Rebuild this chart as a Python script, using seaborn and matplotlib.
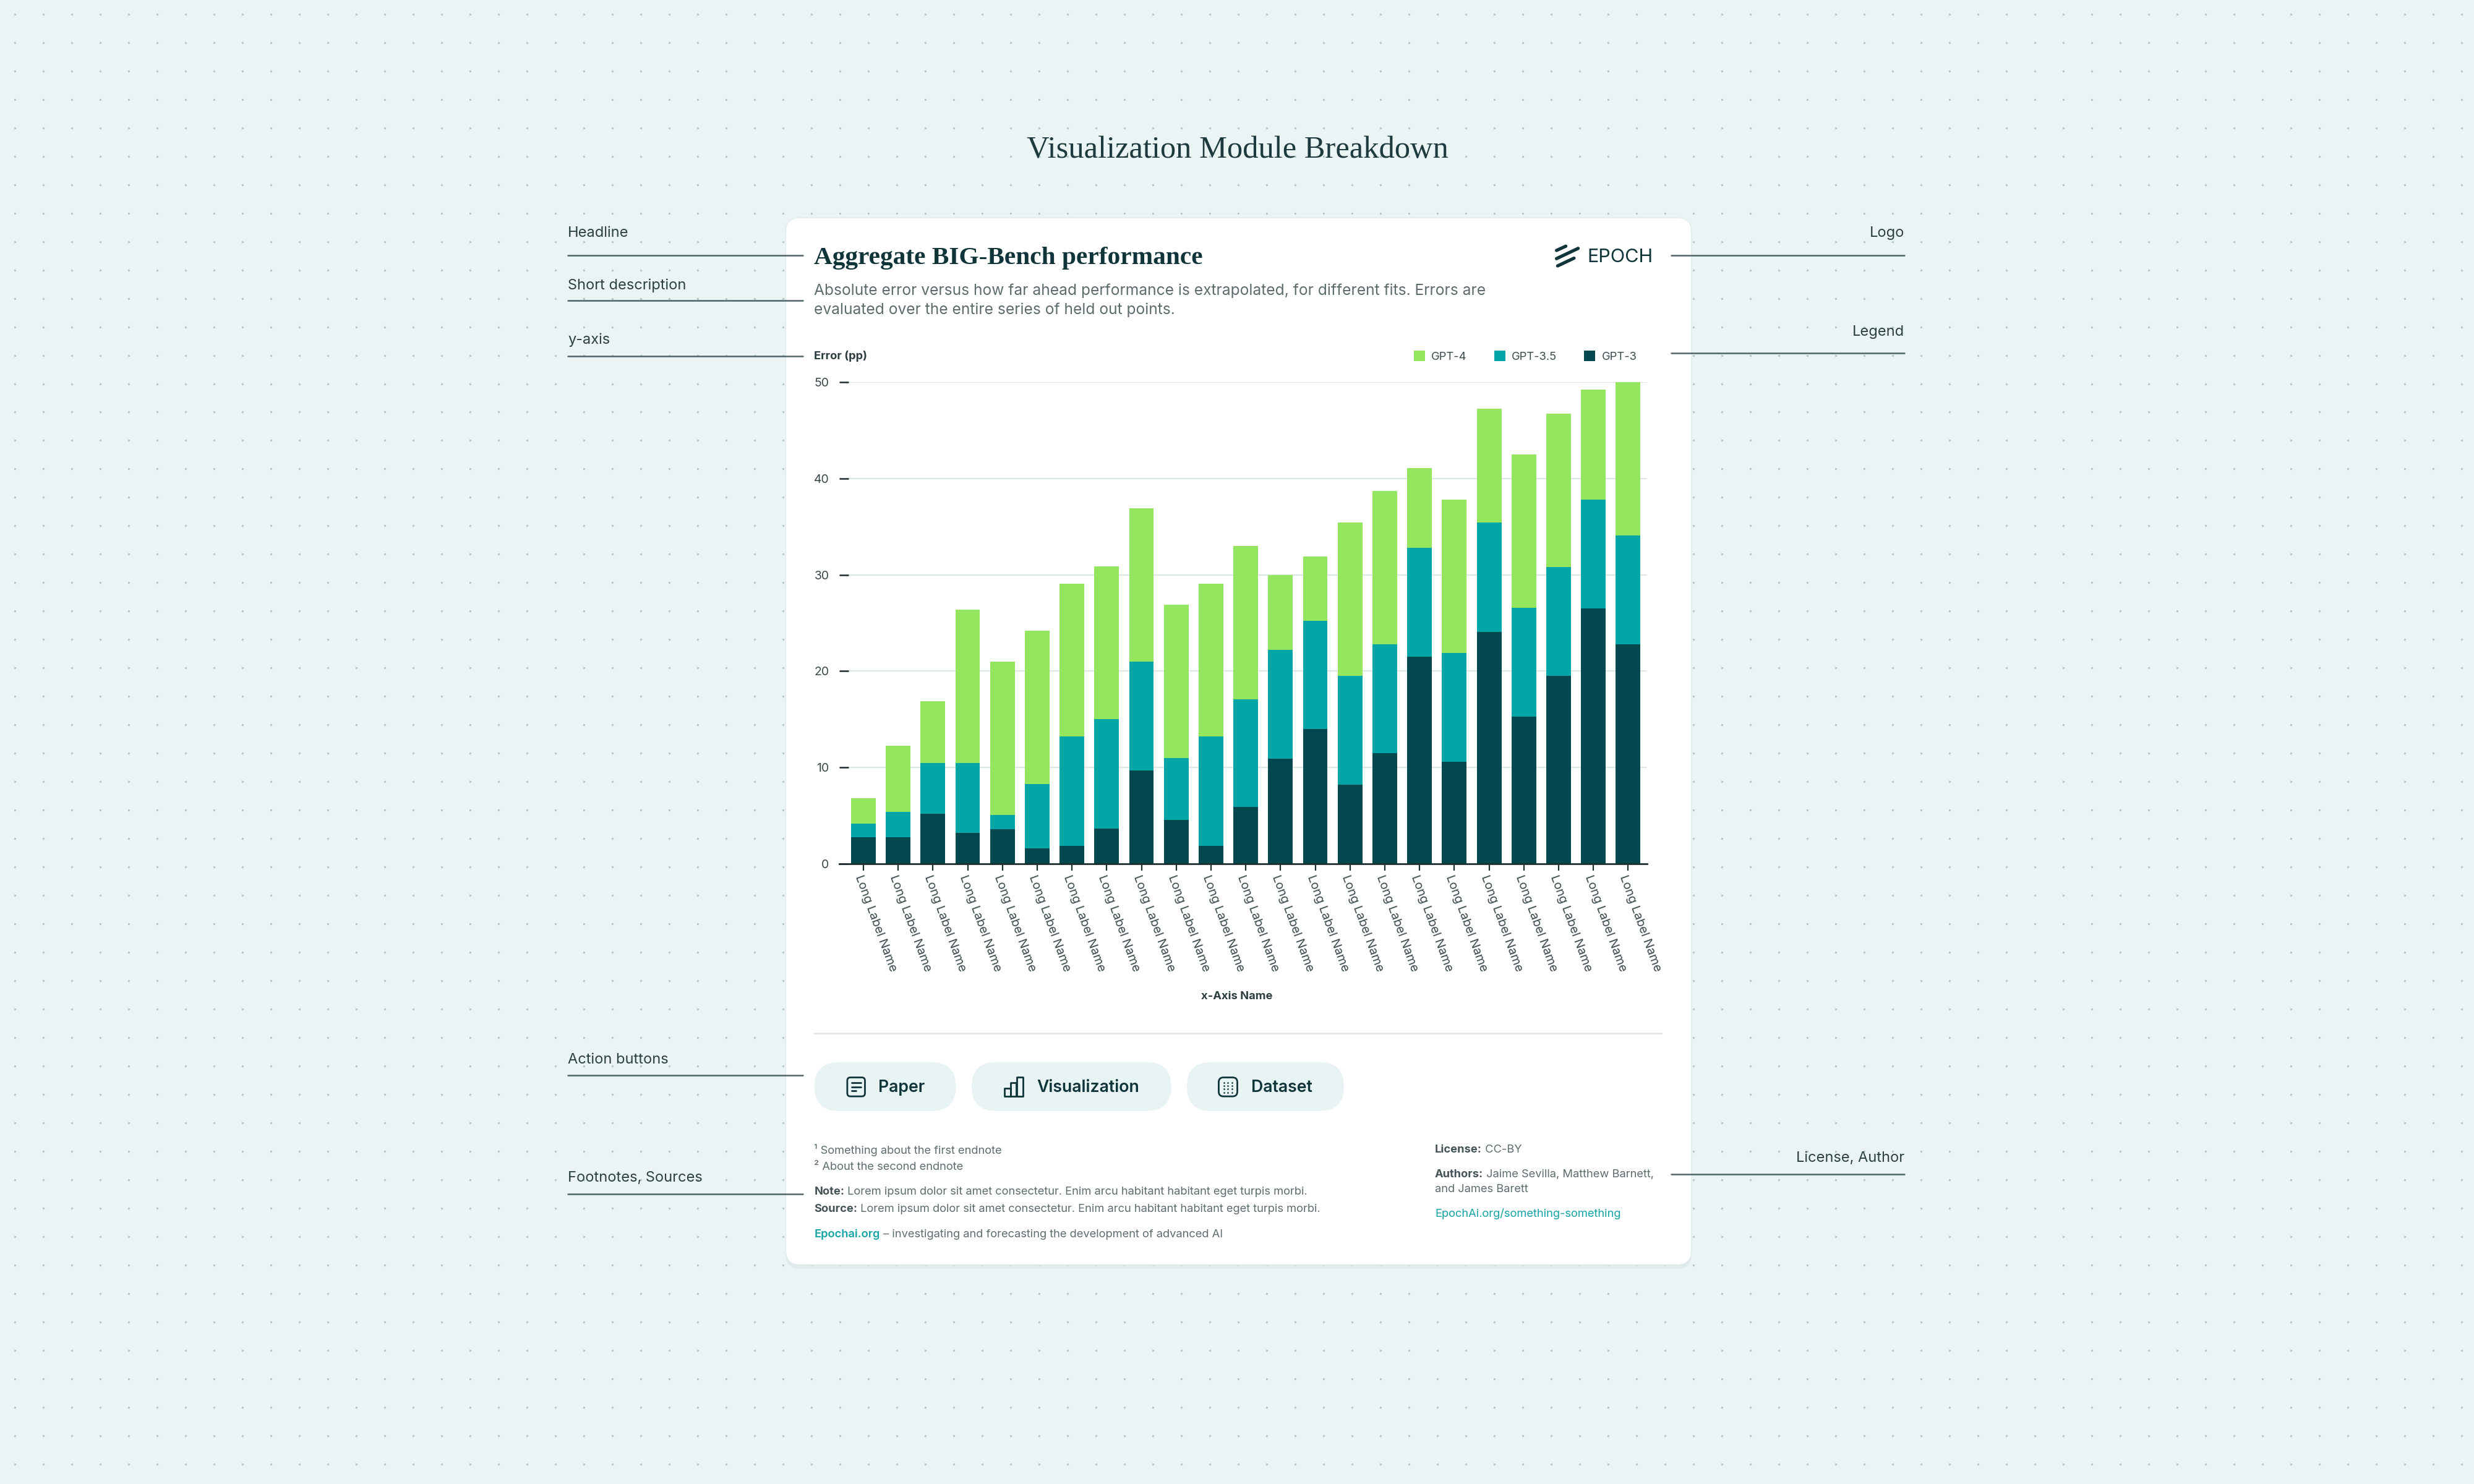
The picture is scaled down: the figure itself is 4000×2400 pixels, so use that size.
import matplotlib
matplotlib.use("Agg")
import numpy as np
import pandas as pd
import matplotlib.pyplot as plt
from matplotlib.patches import FancyBboxPatch, Rectangle, Patch
import seaborn as sns

# ── colours ─────────────────────────────────────────────────────────────────
BG      = "#ebf4f4"
DOT     = "#b6c9ca"
CARD    = "#ffffff"
INK     = "#0f3439"
NOTE    = "#2c3f42"
LINE    = "#4f6468"
GREY    = "#5e6c6e"
GRID    = "#dfe6e6"
LINK    = "#14a3a3"
PILL    = "#e8f3f3"
GREEN   = "#94e65e"
TEAL    = "#02a6a6"
DARK    = "#03474f"

SANS  = ["Inter", "DejaVu Sans"]
SERIF = ["Liberation Serif", "DejaVu Serif"]

# ── data ────────────────────────────────────────────────────────────────────
LABELS = ["Long Label Name"] * 23
GPT3  = [2.8, 2.8, 5.2, 3.2, 3.6, 1.6, 1.9, 3.7, 9.7, 4.6, 1.9, 5.9,
         10.9, 14.0, 8.2, 11.5, 21.5, 10.6, 24.1, 15.3, 19.5, 26.5, 22.8]
GPT35 = [1.4, 2.6, 5.3, 7.3, 1.5, 6.7, 11.3, 11.3, 11.3, 6.4, 11.3, 11.2,
         11.3, 11.2, 11.3, 11.3, 11.3, 11.3, 11.3, 11.3, 11.3, 11.3, 11.3]
GPT4  = [2.6, 6.9, 6.4, 15.9, 15.9, 15.9, 15.9, 15.9, 15.9, 15.9, 15.9, 15.9,
         7.8, 6.7, 15.9, 15.9, 8.3, 15.9, 11.8, 15.9, 15.9, 11.4, 15.9]
SERIES = ["GPT-4", "GPT-3.5", "GPT-3"]
Y_TICKS = [0, 10, 20, 30, 40, 50]

df = pd.DataFrame({"idx": range(len(LABELS)), "label": LABELS,
                   "gpt3": GPT3, "gpt35": GPT35, "gpt4": GPT4})
df["top35"] = df["gpt3"] + df["gpt35"]
df["top4"] = df["top35"] + df["gpt4"]

sns.set_theme(style="white")
plt.rcParams["font.family"] = SANS

# ── figure + canvas in screen units (1568 x 941) ────────────────────────────
W, H = 1568, 941
fig = plt.figure(figsize=(20, 12), dpi=200, facecolor=BG)
cv = fig.add_axes([0, 0, 1, 1])
cv.set_xlim(0, W)
cv.set_ylim(H, 0)
cv.axis("off")
cv.set_facecolor(BG)

# dotted background
gx, gy = np.meshgrid(np.arange(9.4, W, 18.03), np.arange(8.9, H, 18.03))
cv.scatter(gx.ravel(), gy.ravel(), s=1.6, color=DOT, linewidths=0, zorder=0)

# card
cv.add_patch(FancyBboxPatch((498, 139.5), 574, 665, boxstyle="round,pad=0,rounding_size=9",
                            facecolor="#dbe7e7", edgecolor="none", alpha=0.7, zorder=1))
cv.add_patch(FancyBboxPatch((498, 138), 574, 664, boxstyle="round,pad=0,rounding_size=9",
                            facecolor=CARD, edgecolor="#e2ebeb", lw=0.5, zorder=2))

# page title
cv.text(784.5, 95, "Visualization Module Breakdown", family=SERIF, fontsize=18.2,
        color="#1d3a3e", ha="center", va="center", zorder=3)

# annotations
for txt, ty, ly in [("Headline", 148, 162), ("Short description", 181, 190.5),
                    ("y-axis", 215.5, 225.7), ("Action buttons", 672, 682),
                    ("Footnotes, Sources", 747, 757)]:
    cv.text(360, ty, txt, fontsize=8.5, color=NOTE, ha="left", va="center", zorder=3)
    cv.plot([360, 509], [ly, ly], color=LINE, lw=0.9, zorder=3)
for txt, ty, ly in [("Logo", 148, 162), ("Legend", 210.5, 224), ("License, Author", 734.5, 744.5)]:
    cv.text(1207, ty, txt, fontsize=8.5, color=NOTE, ha="right", va="center", zorder=3)
    cv.plot([1059, 1207], [ly, ly], color=LINE, lw=0.9, zorder=3)

# headline + description
cv.text(516, 163.5, "Aggregate BIG-Bench performance", family=SERIF, fontsize=14.9,
        fontweight="bold", color=INK, ha="left", va="center", zorder=3)
cv.text(516, 184.3, "Absolute error versus how far ahead performance is extrapolated, for different fits. Errors are",
        fontsize=8.85, color=GREY, ha="left", va="center", zorder=3)
cv.text(516, 196.6, "evaluated over the entire series of held out points.",
        fontsize=8.85, color=GREY, ha="left", va="center", zorder=3)

# logo
for (x0, y0, x1, y1) in [(986.5, 158.8, 992.4, 156.1), (986.5, 164.0, 1000.2, 157.5),
                         (987.2, 168.6, 997.6, 163.7)]:
    cv.plot([x0, x1], [y0, y1], color=INK, lw=1.9, solid_capstyle="round", zorder=3)
cv.text(1006, 163, "EPOCH", fontsize=11, color=INK, ha="left", va="center", zorder=3)

# ── chart ───────────────────────────────────────────────────────────────────
ax = fig.add_axes([532 / W, 0.4178, (1044 - 532) / W, 0.7426 - 0.4178])
ax.set_zorder(3)
ax.patch.set_visible(False)
for col, color in [("top4", GREEN), ("top35", TEAL), ("gpt3", DARK)]:
    sns.barplot(data=df, x="idx", y=col, color=color, width=0.71, saturation=1,
                errorbar=None, linewidth=0, ax=ax)
ax.set_xlim(-0.69, 22.55)
ax.set_ylim(0, 50)
ax.set_yticks(Y_TICKS)
ax.yaxis.grid(True, color=GRID, lw=0.8)
ax.set_axisbelow(True)
for s in ["left", "top", "right"]:
    ax.spines[s].set_visible(False)
ax.spines["bottom"].set_color("#1e2e30")
ax.spines["bottom"].set_linewidth(1.0)
ax.tick_params(axis="y", direction="in", length=5.4, width=0.9, color="#1e2e30",
               pad=6, labelsize=7, labelcolor="#3a4a4c", left=True)
ax.tick_params(axis="x", direction="out", length=4, width=0.8, color="#1e2e30",
               pad=1.5, labelsize=7.2, labelcolor="#3a4a4c", bottom=True)
ax.set_xticks(df["idx"])
ax.set_xticklabels(df["label"], rotation=-70, ha="left", va="top", rotation_mode="anchor")
ax.set_xlabel("")
ax.set_ylabel("")

cv.text(516, 226, "Error (pp)", fontsize=6.6, fontweight="bold", color="#2e3e40",
        ha="left", va="center", zorder=3)
cv.text(784, 632, "x-Axis Name", fontsize=6.6, fontweight="bold", color="#2e3e40",
        ha="center", va="center", zorder=3)
handles = [Patch(facecolor=c, edgecolor="none") for c in [GREEN, TEAL, DARK]]
ax.legend(handles, SERIES, ncol=3, loc="center right", bbox_to_anchor=(1041, 226),
          bbox_transform=cv.transData, frameon=False, fontsize=6.6, handlelength=1.0,
          handleheight=1.0, handletextpad=0.55, columnspacing=2.4, borderpad=0,
          labelcolor="#3a4a4c")

# separator
cv.plot([516, 1053], [655, 655], color="#e0e7e7", lw=1.0, zorder=3)

# ── action buttons ──────────────────────────────────────────────────────────
for x0, x1, txt, tx in [(516.2, 605.9, "Paper", 556.8), (615.8, 742.3, "Visualization", 657),
                        (752.2, 851.8, "Dataset", 792.9)]:
    cv.add_patch(FancyBboxPatch((x0, 673.5), x1 - x0, 31, boxstyle="round,pad=0,rounding_size=15.5",
                                facecolor=PILL, edgecolor="none", zorder=3))
    cv.text(tx, 689.5, txt, fontsize=9.6, fontweight="semibold", color=INK,
            ha="left", va="center", zorder=4)

# paper icon
cv.add_patch(FancyBboxPatch((537, 683.2), 11.2, 12, boxstyle="round,pad=0,rounding_size=2",
                            facecolor="none", edgecolor=INK, lw=1.0, zorder=4))
for yy, xe in [(686.6, 545.5), (689.2, 545.5), (691.8, 542.5)]:
    cv.plot([539.6, xe], [yy, yy], color=INK, lw=1.0, solid_capstyle="round", zorder=4)
# visualization icon
for bx, by in [(636.8, 690.0), (640.6, 686.6), (644.6, 683.2)]:
    cv.add_patch(Rectangle((bx, by), 3.6, 695.2 - by, facecolor="none", edgecolor=INK,
                           lw=1.0, joinstyle="round", zorder=4))
# dataset icon
cv.add_patch(FancyBboxPatch((772.4, 683.2), 11.8, 12, boxstyle="round,pad=0,rounding_size=3",
                            facecolor="none", edgecolor=INK, lw=1.0, zorder=4))
dx, dy = np.meshgrid([775.9, 778.3, 780.7], [686.4, 688.5, 690.6, 692.7])
cv.scatter(dx.ravel(), dy.ravel(), s=0.9, color=INK, linewidths=0, zorder=4)

# ── footnotes ───────────────────────────────────────────────────────────────
renderer = fig.canvas.get_renderer()


def rich(x, y, parts, size=6.6):
    for s, weight, color in parts:
        t = cv.text(x, y, s, fontsize=size, fontweight=weight, color=color,
                    ha="left", va="center", zorder=4)
        x += t.get_window_extent(renderer).width * W / fig.bbox.width


rich(516, 729.1, [("\u00b9 Something about the first endnote", "normal", GREY)])
rich(516, 740.0, [("\u00b2 About the second endnote", "normal", GREY)])
rich(516, 755.6, [("Note:", "bold", "#455456"),
                  (" Lorem ipsum dolor sit amet consectetur. Enim arcu habitant habitant eget turpis morbi.",
                   "normal", GREY)])
rich(516, 766.8, [("Source:", "bold", "#455456"),
                  (" Lorem ipsum dolor sit amet consectetur. Enim arcu habitant habitant eget turpis morbi.",
                   "normal", GREY)])
rich(516, 782.7, [("Epochai.org", "semibold", LINK),
                  (" \u2013 investigating and forecasting the development of advanced AI", "normal", GREY)])
rich(909.4, 729.1, [("License:", "bold", "#455456"), (" CC-BY", "normal", GREY)])
rich(909.4, 744.8, [("Authors:", "bold", "#455456"),
                    (" Jaime Sevilla, Matthew Barnett,", "normal", GREY)])
rich(909.4, 754.2, [("and James Barett", "normal", GREY)])
rich(909.4, 769.5, [("EpochAi.org/something-something", "normal", LINK)])

fig.savefig("out.png", dpi=200, facecolor=BG)
